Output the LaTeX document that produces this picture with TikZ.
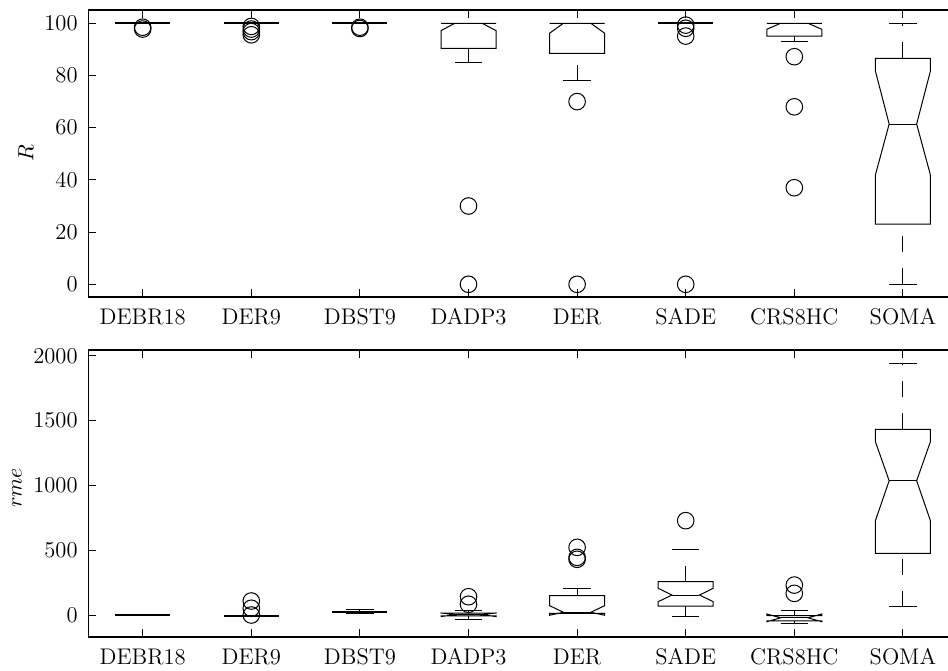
\documentclass[tikz,border=0pt]{standalone}

\tikzset{
  frame/.style={line width=0.8pt},
  boxln/.style={line width=0.5pt},
  flat/.style={line width=1.1pt},
  whisk/.style={line width=0.5pt,dash pattern=on 8pt off 8pt},
  outl/.style={circle,draw,line width=0.5pt,minimum size=8.3pt,inner sep=0pt},
  ticklab/.style={inner sep=0pt}
}

% notched box: x, q1, notch low, median, notch high, q3
\newcommand{\notchbox}[6]{%
  \draw[boxln] ({#1-27.5},#2) -- ({#1-27.5},#3) -- ({#1-13.75},#4) -- ({#1-27.5},#5)
    -- ({#1-27.5},#6) -- ({#1+27.5},#6) -- ({#1+27.5},#5) -- ({#1+13.75},#4)
    -- ({#1+27.5},#3) -- ({#1+27.5},#2) -- cycle;
  \draw[boxln] ({#1-13.75},#4) -- ({#1+13.75},#4);}
% whiskers with end bars: x, low, q1, q3, high
\newcommand{\whiskers}[5]{%
  \draw[whisk] (#1,#2) -- (#1,#3);
  \draw[whisk] (#1,#4) -- (#1,#5);
  \draw[boxln] ({#1-13.75},#2) -- ({#1+13.75},#2);
  \draw[boxln] ({#1-13.75},#5) -- ({#1+13.75},#5);}
% collapsed box: x, value
\newcommand{\flatbox}[2]{%
  \draw[flat] ({#1-27.5},#2) -- ({#1+27.5},#2);}

\begin{document}
\begin{tikzpicture}[x=0.5pt,y=0.5pt,font=\fontsize{11.3}{13}\selectfont]
\useasboundingbox (0,0) rectangle (948,670);
\clip (0,0) rectangle (948,670);

% frames and category ticks
\draw[frame] (88.3,373) rectangle (962,660);
\draw[frame] (88.3,33.3) rectangle (962,320);
\foreach \nm [count=\i] in {DEBR18,DER9,DBST9,DADP3,DER,SADE,CRS8HC,SOMA} {
  \pgfmathsetmacro{\xc}{142.7+(\i-1)*108.6}
  \draw[boxln] (\xc,373) -- ++(0,8);
  \draw[boxln] (\xc,660) -- ++(0,-8);
  \draw[boxln] (\xc,33.3) -- ++(0,8);
  \draw[boxln] (\xc,320) -- ++(0,-8);
  \node[anchor=base] (ta\i) at (\xc,345.5) {\nm};
  \node[anchor=base] (tb\i) at (\xc,6) {\nm};
}
\node[anchor=base,rotate=90] (ylabR) at (33.3,516.5) {$R$};
\node[anchor=base,rotate=90] (ylabE) at (21.7,182) {$rme$};

% upper panel: R
\begin{scope}[shift={(0,385.7)},yscale=2.61]
  \foreach \v in {0,20,...,100} {
    \draw[boxln] (88.3,\v) -- ++(8,0);
    \node[ticklab,anchor=east] (ry\v) at (78,\v) {\v};
  }
  \flatbox{142.7}{100}
  \flatbox{251.3}{100}
  \flatbox{359.9}{100}
  \flatbox{685.7}{100}
  \notchbox{468.5}{90.4}{97.2}{100}{100}{100}
  \whiskers{468.5}{85}{90.4}{100}{100}
  \notchbox{577.1}{88.5}{96.2}{100}{100}{100}
  \whiskers{577.1}{78}{88.5}{100}{100}
  \notchbox{794.3}{95.1}{97.7}{100}{100}{100}
  \whiskers{794.3}{93}{95.1}{100}{100}
  \notchbox{902.9}{23.1}{41.9}{61.4}{81.7}{86.6}
  \whiskers{902.9}{0}{23.1}{86.6}{100}
  \foreach \x/\v [count=\k] in {142.7/98.5,142.7/97.8,
      251.3/98.8,251.3/97.8,251.3/96.8,251.3/95.6,
      359.9/98.5,359.9/98,
      468.5/30,468.5/0,
      577.1/70,577.1/0,
      685.7/99.3,685.7/98.1,685.7/95.1,685.7/0,
      794.3/87.2,794.3/68,794.3/37}
    \node[outl] (ro\k) at (\x,\v) {};
\end{scope}

% lower panel: rme
\begin{scope}[shift={(0,55)},yscale=0.1296]
  \foreach \v in {0,500,...,2000} {
    \draw[boxln] (88.3,\v) -- ++(8,0);
    \node[ticklab,anchor=east] (ey\v) at (78,\v) {\v};
  }
  \flatbox{142.7}{0}
  \flatbox{251.3}{-8}
  \whiskers{359.9}{8}{17}{25}{44}
  \flatbox{359.9}{21}
  \notchbox{468.5}{-6}{-12}{2}{16}{14}
  \whiskers{468.5}{-33}{-6}{14}{33}
  \notchbox{577.1}{13}{-2}{21}{72}{149}
  \whiskers{577.1}{13}{13}{149}{206}
  \notchbox{685.7}{69}{103}{154}{206}{257}
  \whiskers{685.7}{-13}{69}{257}{509}
  \notchbox{794.3}{-45}{-52}{-22}{8}{-5}
  \whiskers{794.3}{-69}{-45}{-5}{31}
  \notchbox{902.9}{476}{728}{1036}{1337}{1433}
  \whiskers{902.9}{64}{476}{1433}{1942}
  \foreach \x/\v [count=\k] in {251.3/108,251.3/52,251.3/0,
      468.5/141,468.5/83,
      577.1/522,577.1/445,577.1/430,
      685.7/728,
      794.3/231,794.3/167}
    \node[outl] (eo\k) at (\x,\v) {};
\end{scope}
\end{tikzpicture}
\end{document}
